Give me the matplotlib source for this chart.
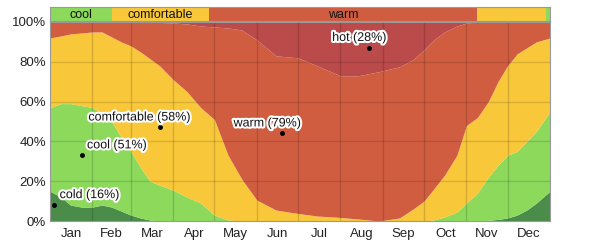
import numpy as np
import matplotlib
matplotlib.use('Agg')
from matplotlib import pyplot as plt
from matplotlib import patheffects as pe

# day of year sample points and cumulative category boundaries (%)
days = [0, 8, 15, 23, 31, 38, 45, 52, 59, 66, 73, 80, 90, 100, 110, 120, 130, 140,
        151, 165, 181, 195, 212, 225, 240, 255, 265, 273, 280, 288, 297, 304, 312,
        320, 327, 334, 341, 348, 355, 365]
cold_top = [15, 12, 8, 7, 7, 8, 7, 5, 3, 1.5, 0.5, 0, 0, 0, 0, 0, 0, 0,
            0, 0, 0, 0, 0, 0, 0, 0, 0, 0, 0, 0, 0, 0, 0,
            0.3, 0.8, 1.5, 3, 5.5, 9, 15]
cool_top = [57, 59, 59, 58, 57, 54, 50, 42, 35, 27, 20, 18, 15.5, 12, 9, 3, 0.5, 0,
            0, 0, 0, 0, 0, 0, 0, 0, 0, 0, 0.5, 2, 4.5, 9, 14,
            22, 28, 33, 35, 40, 45, 55]
comf_top = [92, 93, 94, 94.5, 95, 95, 92.5, 90, 88, 85, 81.5, 78, 71, 65, 57, 51, 33, 21,
            10.5, 5.5, 3.8, 2.5, 1.8, 1, 0, 1.5, 6, 10, 16, 23, 33, 48, 52,
            60, 70, 78, 84, 87, 90, 92]
warm_top = [100, 100, 100, 100, 100, 100, 100, 100, 100, 100, 100, 99.8, 99.5, 99, 98, 97.5, 97, 96,
            91, 83, 82, 78, 73, 73, 75, 77.5, 81, 86, 91, 95, 98, 99.5, 100,
            100, 100, 100, 100, 100, 100, 100]

months = ['Jan', 'Feb', 'Mar', 'Apr', 'May', 'Jun', 'Jul', 'Aug', 'Sep', 'Oct', 'Nov', 'Dec']
month_starts = [0, 31, 59, 90, 120, 151, 181, 212, 243, 273, 304, 334, 365]

# top band: (start day, end day, name, label shown)
band_start = [0, 45, 116, 312, 362]
band_end = [45, 116, 312, 362, 365]
band_name = ['cool', 'comfortable', 'warm', 'comfortable', 'cool']
band_text = ['cool', 'comfortable', 'warm', '', '']

# annotations: label, day, value
ann_label = ['cold (16%)', 'cool (51%)', 'comfortable (58%)', 'warm (79%)', 'hot (28%)']
ann_day = [3, 23, 80, 169, 233]
ann_val = [8, 33, 47, 44, 87]
ann_dx = [4, 4, -52, -35, -27]

colors = {'cold': '#4b8c4b', 'cool': '#8cd95c', 'comfortable': '#f8c83a',
          'warm': '#d15d40', 'hot': '#bb4a4a'}

plt.rcParams['font.family'] = ['Liberation Sans', 'DejaVu Sans']

fig = plt.figure(figsize=(6, 2.44), dpi=100)
ax = fig.add_axes([50/600, 23/244, 500/600, 199/244])
band = fig.add_axes([50/600, 223/244, 500/600, 14/244])

x = np.array(days)
zero = np.zeros_like(x, dtype=float)
ax.fill_between(x, zero, cold_top, color=colors['cold'], lw=0)
ax.fill_between(x, cold_top, cool_top, color=colors['cool'], lw=0)
ax.fill_between(x, cool_top, comf_top, color=colors['comfortable'], lw=0)
ax.fill_between(x, comf_top, warm_top, color=colors['warm'], lw=0)
ax.fill_between(x, warm_top, 100, color=colors['hot'], lw=0)

for d in month_starts[1:-1]:
    ax.axvline(d, color='black', alpha=0.15, lw=1)
for v in [20, 40, 60, 80]:
    ax.axhline(v, color='black', alpha=0.12, lw=1)

ax.set_xlim(0, 365)
ax.set_ylim(0, 100)
ax.set_yticks([0, 20, 40, 60, 80, 100])
ax.set_yticklabels(['%d%%' % v for v in [0, 20, 40, 60, 80, 100]])
mids = [(month_starts[i] + month_starts[i+1]) / 2 for i in range(12)]
ax.set_xticks(mids)
ax.set_xticklabels(months)
ax.tick_params(axis='x', length=0, labelsize=9.5, colors='#222222', pad=5)
ax.tick_params(axis='y', length=0, labelsize=9.5, colors='#222222', pad=3)
for s in ax.spines.values():
    s.set_color('#999999')

for lab, d, v, dx in zip(ann_label, ann_day, ann_val, ann_dx):
    ax.plot(d, v, 'o', color='black', ms=2.5)
    ax.text(d + dx, v + 5, lab, fontsize=9, color='#111111', va='center',
            path_effects=[pe.withStroke(linewidth=3, foreground='white')])

for s0, s1, n, t in zip(band_start, band_end, band_name, band_text):
    band.axvspan(s0, s1, color=colors[n], lw=0)
    if t:
        band.text((s0 + s1) / 2, 0.45, t, ha='center', va='center', fontsize=9, color='#111111')
band.set_xlim(0, 365)
band.set_ylim(0, 1)
band.set_xticks([])
band.set_yticks([])
for s in band.spines.values():
    s.set_color('#999999')

fig.savefig('out.png', dpi=100)
